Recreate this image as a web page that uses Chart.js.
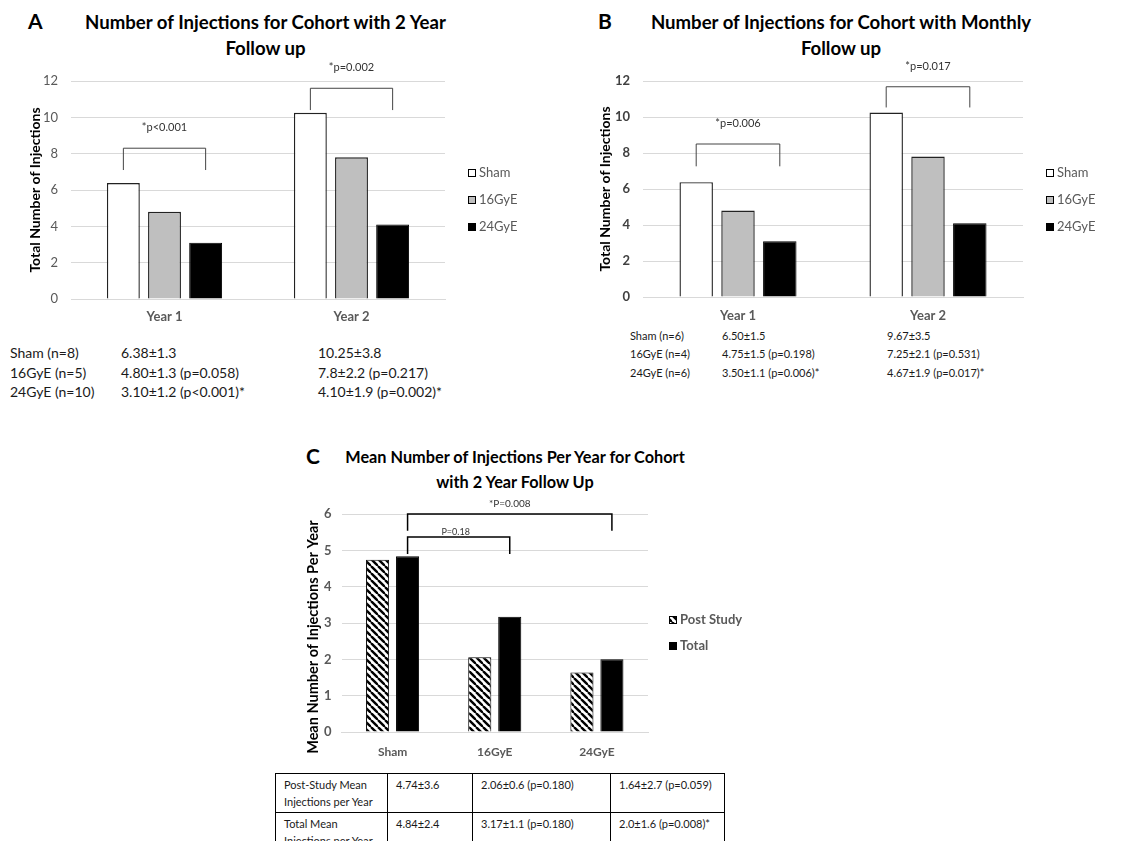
<!DOCTYPE html>
<html>
<head>
<meta charset="utf-8">
<script src="https://cdn.jsdelivr.net/npm/chart.js"></script>
<style>
body{margin:0;background:#fff;width:1131px;height:841px;overflow:hidden;position:relative;font-family:Lato,sans-serif;color:#1a1a1a}
.abs{position:absolute;white-space:nowrap}
.letter{font-weight:bold;font-size:21px;color:#000}
.ttl{font-weight:bold;text-align:center;color:#000}
canvas{position:absolute}
.tbl div{position:absolute;white-space:nowrap}
#tblC{position:absolute;left:275px;top:773px;border-collapse:collapse;font-size:11px;color:#1a1a1a}
#tblC td{border:1.5px solid #000;vertical-align:top;padding:2px 8px 0 8px;height:36px;line-height:17.4px}
</style>
</head>
<body>

<div class="abs letter" style="left:28px;top:8px">A</div>
<div class="abs ttl" style="left:0;width:531px;top:9px;font-size:18.6px;line-height:26px">Number of Injections for Cohort with 2 Year<br>Follow up</div>
<div class="abs letter" style="left:598px;top:8px">B</div>
<div class="abs ttl" style="left:541px;width:600px;top:9px;font-size:18.6px;line-height:26px">Number of Injections for Cohort with Monthly<br>Follow up</div>
<div class="abs letter" style="left:306px;top:443px">C</div>
<div class="abs ttl" style="left:215px;width:600px;top:444px;font-size:16.3px;line-height:25px">Mean Number of Injections Per Year for Cohort<br>with 2 Year Follow Up</div>

<canvas id="chartA" width="565" height="329" style="left:0;top:0"></canvas>
<canvas id="chartB" width="561" height="327" style="left:570px;top:0"></canvas>
<canvas id="chartC" width="480" height="322" style="left:280px;top:440px"></canvas>

<div class="tbl" id="tblA" style="font-size:14px;line-height:19.5px"></div>
<div class="tbl" id="tblB" style="font-size:11px;line-height:18.3px"></div>
<table id="tblC"></table>

<script>
// panel A : cohort with 2 year follow up
var yearLabels=["Year 1","Year 2"];
var shamA=[6.38,10.25];
var gy16A=[4.80,7.8];
var gy24A=[3.10,4.10];
// panel B : cohort with monthly follow up
var shamB=[6.38,10.25];
var gy16B=[4.80,7.8];
var gy24B=[3.10,4.10];
// panel C : mean per year
var cohortLabels=["Sham","16GyE","24GyE"];
var postStudyC=[4.74,2.06,1.64];
var totalC=[4.84,3.17,2.0];

var tableA=[
	["Sham (n=8)","6.38\u00b11.3","10.25\u00b13.8"],
	["16GyE (n=5)","4.80\u00b11.3 (p=0.058)","7.8\u00b12.2 (p=0.217)"],
	["24GyE (n=10)","3.10\u00b11.2 (p<0.001)*","4.10\u00b11.9 (p=0.002)*"]
];
var tableB=[
	["Sham (n=6)","6.50\u00b11.5","9.67\u00b13.5"],
	["16GyE (n=4)","4.75\u00b11.5 (p=0.198)","7.25\u00b12.1 (p=0.531)"],
	["24GyE (n=6)","3.50\u00b11.1 (p=0.006)*","4.67\u00b11.9 (p=0.017)*"]
];
var tableC=[
	["Post-Study Mean<br>Injections per Year","4.74\u00b13.6","2.06\u00b10.6 (p=0.180)","1.64\u00b12.7 (p=0.059)"],
	["Total Mean<br>Injections per Year","4.84\u00b12.4","3.17\u00b11.1 (p=0.180)","2.0\u00b11.6 (p=0.008)*"]
];

Chart.defaults.font.family="Lato";
Chart.defaults.animation=false;

// brackets: a/b = [datasetIndex, categoryIndex]
var bracketPlugin={
	id:"brackets",
	afterDatasetsDraw:function(chart,args,opts){
		var ctx=chart.ctx;
		var ys=chart.scales.y;
		(opts.items||[]).forEach(function(b){
			var x1=chart.getDatasetMeta(b.a[0]).data[b.a[1]].x;
			var x2=chart.getDatasetMeta(b.b[0]).data[b.b[1]].x;
			var yt=ys.getPixelForValue(b.top);
			var yd=ys.getPixelForValue(b.drop);
			ctx.save();
			ctx.strokeStyle=opts.color;
			ctx.lineWidth=opts.lineWidth;
			ctx.beginPath();
			ctx.moveTo(x1,yd);
			ctx.lineTo(x1,yt);
			ctx.lineTo(x2,yt);
			ctx.lineTo(x2,yd);
			ctx.stroke();
			ctx.fillStyle="#333";
			ctx.font=b.size+"px Lato";
			ctx.textAlign="center";
			ctx.textBaseline="middle";
			ctx.fillText(b.text,(x1+x2)/2+(b.dx||0),yt-b.gap);
			ctx.restore();
		});
	}
};

// legend on the right side, drawn from the datasets
var sideLegend={
	id:"sideLegend",
	afterDraw:function(chart,args,opts){
		var ctx=chart.ctx;
		var x=chart.chartArea.right+opts.dx;
		chart.data.datasets.forEach(function(ds,i){
			var y=chart.chartArea.top+opts.dy+i*opts.gap;
			ctx.save();
			ctx.fillStyle=ds.backgroundColor;
			ctx.fillRect(x,y-4,8,8);
			ctx.strokeStyle="#000";
			ctx.lineWidth=1;
			ctx.strokeRect(x+0.5,y-3.5,7,7);
			ctx.fillStyle=opts.color;
			ctx.font=(opts.bold?"bold ":"")+opts.size+"px Lato";
			ctx.textBaseline="middle";
			ctx.fillText(ds.label,x+11,y);
			ctx.restore();
		});
	}
};

function makeStripes(){
	var s=7;
	var c=document.createElement("canvas");
	c.width=s;c.height=s;
	var g=c.getContext("2d");
	g.fillStyle="#fff";
	g.fillRect(0,0,s,s);
	g.strokeStyle="#000";
	g.lineWidth=2.4;
	for(var k=-1;k<=1;k++){
		g.beginPath();
		g.moveTo(k*s,0);
		g.lineTo(k*s+s,s);
		g.stroke();
	}
	return g.createPattern(c,"repeat");
}

function yearChart(id,sham,gy16,gy24,brackets,tickBold,yWidth,xPad){
	var ctx=document.getElementById(id).getContext("2d");
	return new Chart(ctx,{
		type:"bar",
		data:{
			labels:yearLabels,
			datasets:[
				{label:"Sham",data:sham,backgroundColor:"#ffffff",borderColor:"#222",borderWidth:1.4},
				{label:"16GyE",data:gy16,backgroundColor:"#bfbfbf",borderColor:"#222",borderWidth:1.4},
				{label:"24GyE",data:gy24,backgroundColor:"#000000",borderColor:"#000",borderWidth:1}
			]
		},
		options:{
			responsive:false,
			devicePixelRatio:1,
			layout:{padding:{left:23,top:81,right:id=="chartA"?120:108,bottom:0}},
			datasets:{bar:{categoryPercentage:0.66,barPercentage:0.8}},
			scales:{
				x:{
					grid:{display:false},
					border:{color:"#d9d9d9"},
					ticks:{color:"#595959",font:{size:13,weight:"bold"},padding:xPad},
					afterFit:function(s){s.height=30;}
				},
				y:{
					min:0,max:12,
					grid:{color:"#d9d9d9",drawTicks:false},
					border:{display:false},
					ticks:{stepSize:2,color:tickBold?"#404040":"#595959",font:{size:13,weight:tickBold?"bold":"normal"},padding:13},
					title:{display:true,text:"Total Number of Injections",color:"#000",font:{size:14,weight:"bold"}},
					afterFit:function(s){s.width=yWidth;}
				}
			},
			plugins:{
				legend:{display:false},
				tooltip:{enabled:false},
				brackets:{items:brackets,color:"#444",lineWidth:1},
				sideLegend:{dx:23,dy:92,gap:27,size:13,color:"#595959"}
			}
		},
		plugins:[bracketPlugin,sideLegend]
	});
}

yearChart("chartA",shamA,gy16A,gy24A,[
	{a:[0,0],b:[2,0],top:8.3,drop:7.1,text:"*p<0.001",size:11,gap:21},
	{a:[0,1],b:[2,1],top:11.6,drop:10.4,text:"*p=0.002",size:11,gap:21}
],false,48,2);

yearChart("chartB",shamB,gy16B,gy24B,[
	{a:[0,0],b:[2,0],top:8.5,drop:7.26,text:"*p=0.006",size:11,gap:21},
	{a:[0,1],b:[2,1],top:11.68,drop:10.53,text:"*p=0.017",size:11,gap:20}
],true,50,3);

new Chart(document.getElementById("chartC").getContext("2d"),{
	type:"bar",
	data:{
		labels:cohortLabels,
		datasets:[
			{label:"Post Study",data:postStudyC,backgroundColor:makeStripes(),borderColor:"#000",borderWidth:1},
			{label:"Total",data:totalC,backgroundColor:"#000000",borderColor:"#000",borderWidth:1}
		]
	},
	options:{
		responsive:false,
		devicePixelRatio:1,
		layout:{padding:{left:21,top:74,right:112,bottom:0}},
		datasets:{bar:{categoryPercentage:0.587,barPercentage:0.77}},
		scales:{
			x:{
				grid:{display:false},
				border:{color:"#d9d9d9"},
				ticks:{color:"#595959",font:{size:12,weight:"bold"},padding:5},
				afterFit:function(s){s.height=30;}
			},
			y:{
				min:0,max:6,
				grid:{color:"#d9d9d9",drawTicks:false},
				border:{display:false},
				ticks:{stepSize:1,color:"#595959",font:{size:13,weight:"bold"},padding:10},
				// trailing spaces push the rotated title down like in the original
				title:{display:true,text:"Mean Number of Injections Per Year        ",color:"#000",font:{size:14.5,weight:"bold"}},
				afterFit:function(s){s.width=40.5;}
			}
		},
		plugins:{
			legend:{display:false},
			tooltip:{enabled:false},
			brackets:{items:[
				{a:[1,0],b:[1,1],top:5.37,drop:4.9,text:"P=0.18",size:9,gap:5,dx:-3},
				{a:[1,0],b:[1,2],top:6.0,drop:5.54,text:"*P=0.008",size:10,gap:10.5}
			],color:"#000",lineWidth:1.5},
			sideLegend:{dx:21,dy:106,gap:26,size:13,color:"#595959",bold:true}
		}
	},
	plugins:[bracketPlugin,sideLegend]
});

function fillTable(id,rows,left,top,cols){
	var el=document.getElementById(id);
	var lh=parseFloat(el.style.lineHeight);
	rows.forEach(function(r,i){
		r.forEach(function(t,j){
			var d=document.createElement("div");
			d.style.left=(left+cols[j])+"px";
			d.style.top=(top+i*lh)+"px";
			d.textContent=t;
			el.appendChild(d);
		});
	});
}
fillTable("tblA",tableA,0,343,[10,121,318]);
fillTable("tblB",tableB,0,327,[630,722,887]);

var widthsC=[112,85,138,114];
var htmlC="";
tableC.forEach(function(r){
	htmlC+="<tr>";
	r.forEach(function(t,j){htmlC+='<td style="width:'+(widthsC[j]-17)+'px">'+t+"</td>";});
	htmlC+="</tr>";
});
document.getElementById("tblC").innerHTML=htmlC;
</script>
</body>
</html>
